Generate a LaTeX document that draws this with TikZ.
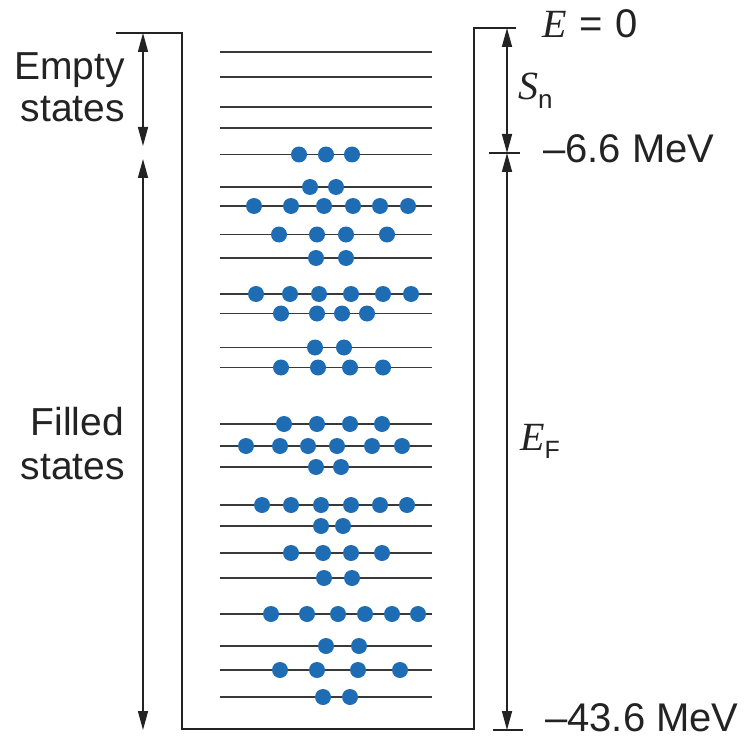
\documentclass[tikz,border=0pt]{standalone}
\usepackage{fontspec}
\setmainfont{Liberation Sans}
\newfontfamily\lsit{Liberation Serif}
\usetikzlibrary{arrows.meta}
\definecolor{dotblue}{RGB}{30,108,180}
\definecolor{ink}{RGB}{35,35,35}
\begin{document}
\begin{tikzpicture}[x=1pt,y=-1pt,
  wall/.style={draw=ink,line width=2pt},
  level/.style={draw=ink!90,line width=1.9pt},
  dim/.style={draw=ink,line width=1.6pt,{Triangle[length=19pt,width=10pt]}-{Triangle[length=19pt,width=10pt]}},
  electron/.style={fill=dotblue},
  lbl/.style={inner sep=0pt,font=\fontsize{39}{44}\selectfont,text=ink},
  rlbl/.style={inner sep=0pt,font=\fontsize{40}{44}\selectfont,text=ink},
  tick/.style={draw=ink,line width=1.7pt}
]
\fill[white] (0,0) rectangle (749,738);
\useasboundingbox (0,0) rectangle (749,738);

% well
\coordinate (wtl) at (116,33);
\coordinate (wlt) at (182,33);
\coordinate (wlb) at (182,729);
\coordinate (wrb) at (474,729);
\coordinate (wrt) at (474,28);
\coordinate (wtr) at (516,28);
\draw[wall] (wtl) -- (wlt) -- (wlb) -- (wrb) -- (wrt) -- (wtr);

% levels
\foreach \y in {52,77,107,128,154.5,187,206,234.5,258,294,313.5,347.5,367.5,424,446,467,505,526,553,578,614,646,670,697}
  \draw[level] (220,\y) -- (432,\y);

% electrons
\foreach \y/\xs in {154.5/{299,326,352},
                    187/{310,336},
                    206/{254,291,324,353,380,408},
                    234.5/{279,317,346,387},
                    258/{316,346},
                    294/{256,290,319,351,383,411},
                    313.5/{281,317,342,367},
                    347.5/{315,344},
                    367.5/{281,318,350,383},
                    424/{284,317,350,382},
                    446/{246,280,308,337,372,402},
                    467/{316,341},
                    505/{262,291,321,351,380,407},
                    526/{321,343},
                    553/{291,323,351,382},
                    578/{324,352},
                    614/{271,307,338,365,392,418},
                    646/{326,359},
                    670/{280,317,358,400},
                    697/{323,350}}
  \foreach \x in \xs
    \fill[electron] (\x,\y) circle[radius=8pt];

% left dimension arrows
\coordinate (ea) at (143,33);
\coordinate (eb) at (143,146);
\coordinate (fa) at (143,159);
\coordinate (fb) at (143,730);
\draw[dim] (ea) -- (eb);
\draw[dim] (fa) -- (fb);

% right dimension arrows
\coordinate (sa) at (507,28);
\coordinate (sb) at (507,153);
\coordinate (fe) at (507,730);
\coordinate (t1a) at (489,153);
\coordinate (t1b) at (520,153);
\coordinate (t2a) at (493,730);
\coordinate (t2b) at (523,730);
\draw[dim] (sa) -- (sb);
\draw[dim] (sb) -- (fe);
\draw[tick] (t1a) -- (t1b);
\draw[tick] (t2a) -- (t2b);

% left labels
\node[lbl,anchor=base east] (empty1) at (125,80) {Empty};
\node[lbl,anchor=base east] (empty2) at (125,122) {states};
\node[lbl,anchor=base east] (filled1) at (124,435) {Filled};
\node[lbl,anchor=base east] (filled2) at (125,479) {states};

% right labels
\node[rlbl,anchor=base west] (ezero) at (542,38) {{\lsit\itshape E}\hspace{13pt}=\hspace{13pt}0};
\node[rlbl,anchor=base west] (sn) at (518,100) {{\lsit\itshape S}\raisebox{-9pt}{\fontsize{26}{26}\selectfont n}};
\node[rlbl,anchor=base west] (mev66) at (543,163) {–6.6 MeV};
\node[rlbl,anchor=base west] (ef) at (520,450) {{\lsit\itshape E}\raisebox{-8pt}{\fontsize{25}{25}\selectfont F}};
\node[rlbl,anchor=base west] (mev436) at (545,731) {–43.6 MeV};
\end{tikzpicture}
\end{document}
